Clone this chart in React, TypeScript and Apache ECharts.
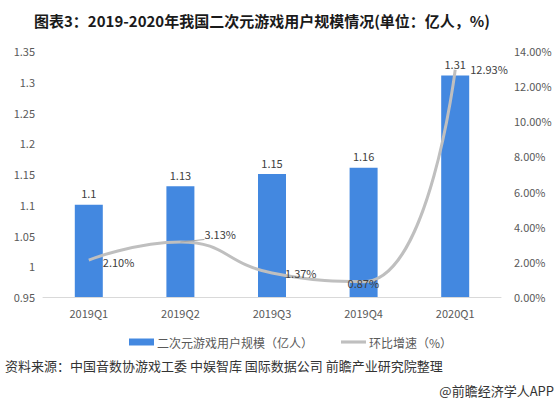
import React, { useEffect, useRef } from "react";
import * as echarts from "echarts";

const categories = ["2019Q1", "2019Q2", "2019Q3", "2019Q4", "2020Q1"];
const userScale = [1.1, 1.13, 1.15, 1.16, 1.31];
const growthRate = [2.1, 3.13, 1.37, 0.87, 12.93];
const leftTicks = [0.95, 1.0, 1.05, 1.1, 1.15, 1.2, 1.25, 1.3, 1.35];
const rightTicks = [0, 2, 4, 6, 8, 10, 12, 14];

const FONT = "'Noto Sans CJK SC', 'Noto Sans', sans-serif";

const labelOffsets: [number, number][] = [
  [9, 2],
  [19, -8],
  [8, 0],
  [-21, 1],
  [10, -1],
];

export default function App() {
  const ref = useRef<HTMLDivElement>(null);
  useEffect(() => {
    const chart = echarts.init(ref.current!, null, { renderer: "svg" });
    chart.setOption({
      animation: false,
      backgroundColor: "#ffffff",
      textStyle: { fontFamily: FONT },
      title: {
        text: "图表3：2019-2020年我国二次元游戏用户规模情况(单位：亿人，%)",
        left: 29,
        top: 8,
        textStyle: { fontSize: 15, fontWeight: "bold", color: "#1a1a1a", fontFamily: FONT },
      },
      legend: {
        top: 331,
        left: 124,
        itemGap: 28,
        itemWidth: 25,
        itemHeight: 7,
        textStyle: { fontSize: 12, color: "#595959", fontFamily: FONT, padding: [0, 0, 0, -2] },
        data: [
          { name: "二次元游戏用户规模（亿人）", icon: "rect" },
          { name: "环比增速（%）", icon: "path://M0,0 L28,0 L28,3.5 L0,3.5 Z" },
        ],
      },
      grid: { left: 43, right: 55, top: 51, bottom: 108, containLabel: false },
      xAxis: {
        type: "category",
        data: categories,
        axisLine: { lineStyle: { color: "#D9D9D9" } },
        axisTick: { show: false },
        axisLabel: { color: "#595959", fontSize: 11, margin: 10 },
      },
      yAxis: [
        {
          type: "value",
          min: leftTicks[0],
          max: leftTicks[leftTicks.length - 1],
          interval: 0.05,
          splitLine: { show: false },
          axisLine: { show: false },
          axisTick: { show: false },
          axisLabel: {
            color: "#595959",
            fontSize: 11,
            margin: 8,
            formatter: (v: number) => String(parseFloat(v.toFixed(2))),
          },
        },
        {
          type: "value",
          min: rightTicks[0],
          max: rightTicks[rightTicks.length - 1],
          interval: 2,
          splitLine: { show: false },
          axisLine: { show: false },
          axisTick: { show: false },
          axisLabel: {
            color: "#595959",
            fontSize: 11,
            margin: 13,
            formatter: (v: number) => v.toFixed(2) + "%",
          },
        },
      ],
      series: [
        {
          name: "二次元游戏用户规模（亿人）",
          type: "bar",
          data: userScale,
          barWidth: 28,
          itemStyle: { color: "#4388E0" },
          label: {
            show: true,
            position: "top",
            distance: 6,
            color: "#404040",
            fontSize: 11,
          },
        },
        {
          name: "环比增速（%）",
          type: "line",
          yAxisIndex: 1,
          data: growthRate.map((v, i) => ({
            value: v,
            label: { offset: labelOffsets[i] },
            labelLine:
              i === 1
                ? { show: true, lineStyle: { color: "#A6A6A6", width: 1 } }
                : { show: false },
          })),
          smooth: 0.5,
          symbol: "circle",
          symbolSize: 0,
          showSymbol: true,
          lineStyle: { color: "#BFBFBF", width: 3 },
          itemStyle: { color: "#BFBFBF" },
          label: {
            show: true,
            position: "right",
            color: "#404040",
            fontSize: 11,
            formatter: (p: any) => p.value.toFixed(2) + "%",
          },
        },
      ],
      graphic: [
        {
          type: "text",
          left: 5,
          top: 359,
          style: {
            text: "资料来源：中国音数协游戏工委 中娱智库 国际数据公司 前瞻产业研究院整理",
            fill: "#333333",
            font: `13px ${FONT}`,
          },
        },
        {
          type: "text",
          right: 2,
          top: 384,
          style: {
            text: "@前瞻经济学人APP",
            fill: "#333333",
            font: `13px ${FONT}`,
          },
        },
      ],
    });
    return () => chart.dispose();
  }, []);
  return (
    <div
      ref={ref}
      style={{ position: "fixed", left: 0, top: 0, width: 556, height: 405 }}
    />
  );
}
